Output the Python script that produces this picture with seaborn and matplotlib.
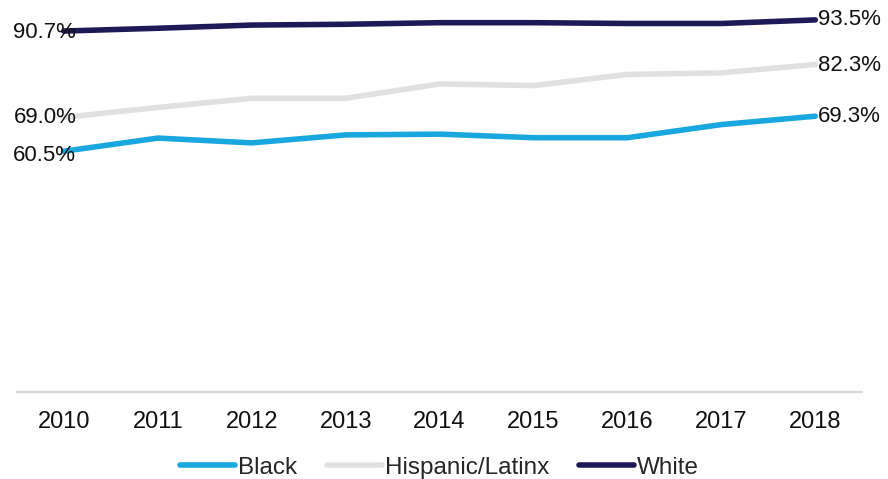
import matplotlib
matplotlib.use("Agg")
import matplotlib.pyplot as plt
import seaborn as sns
import pandas as pd

years = [2010, 2011, 2012, 2013, 2014, 2015, 2016, 2017, 2018]
black = [60.5, 63.8, 62.6, 64.6, 64.8, 63.9, 63.9, 67.2, 69.3]
hispanic = [69.0, 71.5, 73.8, 73.8, 77.4, 77.0, 79.8, 80.2, 82.3]
white = [90.7, 91.4, 92.2, 92.4, 92.8, 92.8, 92.6, 92.6, 93.5]
series_names = ["Black", "Hispanic/Latinx", "White"]
colors = ["#19A7E0", "#E1E1E1", "#1E1A57"]

sns.set_style("white")
plt.rcParams["font.family"] = ["Liberation Sans", "DejaVu Sans"]

rows = []
for name, vals in zip(series_names, [black, hispanic, white]):
    for i, (y, v) in enumerate(zip(years, vals)):
        rows.append({"pos": i, "year": str(y), "series": name, "value": v})
df = pd.DataFrame(rows)

fig = plt.figure(figsize=(8.88, 4.79), dpi=100)
ax = fig.add_axes([0.019, 0.1816, 0.952, 0.8184])
sns.lineplot(data=df, x="pos", y="value", hue="series", palette=colors,
             hue_order=series_names, linewidth=4.0, ax=ax, legend=True,
             solid_capstyle="round")

ax.set_xlim(-0.5, 8.5)
ax.set_ylim(0, 98.5)
ax.set_xticks(range(len(years)))
ax.set_xticklabels([str(y) for y in years], fontsize=17, color="#111111")
ax.tick_params(axis="x", length=0, pad=14)
ax.set_yticks([])
ax.set_xlabel("")
ax.set_ylabel("")
for s in ["top", "left", "right"]:
    ax.spines[s].set_visible(False)
ax.spines["bottom"].set_color("#D9D9D9")
ax.spines["bottom"].set_linewidth(1.5)

# end labels
left_dy = [-3, 0, -1]
right_dy = [0, -1, 0]
for vals, ldy, rdy in zip([black, hispanic, white], left_dy, right_dy):
    ax.annotate(f"{vals[0]:.1f}%", xy=(0, vals[0]), xytext=(9.0, ldy),
                textcoords="offset points", ha="right", va="center",
                fontsize=16, color="#111111")
    ax.annotate(f"{vals[-1]:.1f}%", xy=(8, vals[-1]), xytext=(2, rdy),
                textcoords="offset points", ha="left", va="center",
                fontsize=16, color="#111111")

handles, labels = ax.get_legend_handles_labels()
ax.legend(handles, labels, loc="center", bbox_to_anchor=(0.5, -0.193),
          ncol=3, frameon=False, fontsize=17.5, handlelength=2.25,
          handletextpad=0.12, columnspacing=1.25)

fig.savefig("out.png", dpi=100)
